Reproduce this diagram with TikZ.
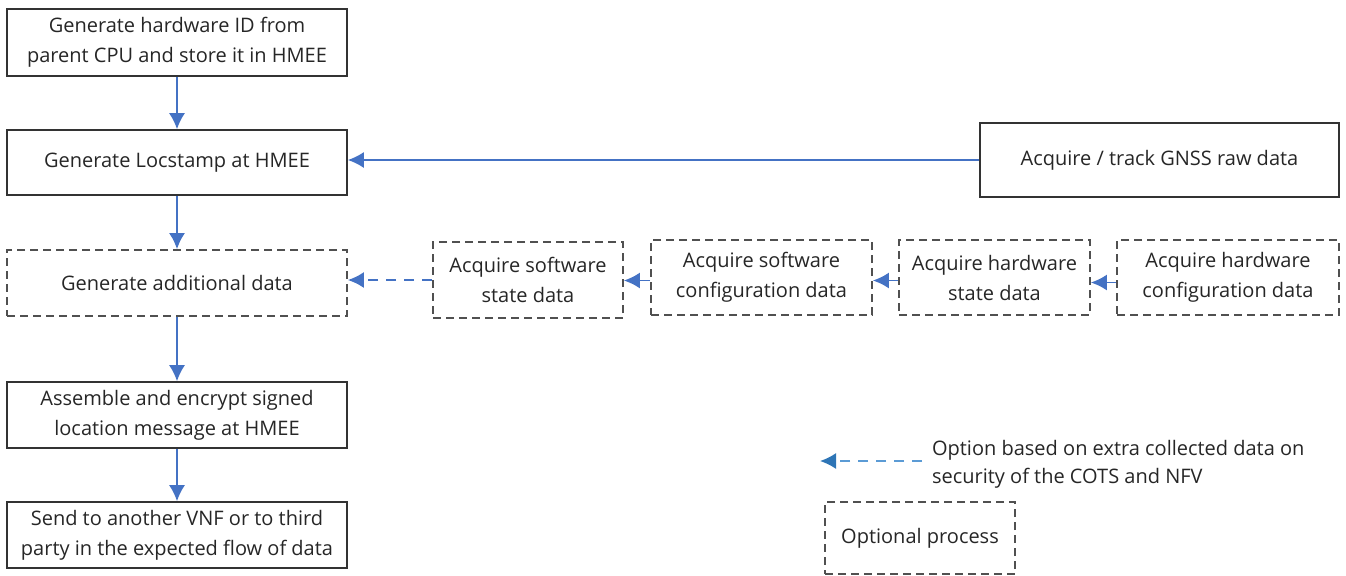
\documentclass[tikz,border=0pt]{standalone}
\usepackage{fontspec}
\setmainfont{Open Sans}
\usetikzlibrary{arrows.meta, positioning}
\definecolor{flowblue}{HTML}{4472C4}
\definecolor{legblue}{HTML}{5B9BD5}
\definecolor{legtip}{HTML}{2E75B6}
\definecolor{dashgray}{HTML}{505050}
\definecolor{textgray}{HTML}{262626}
\tikzstyle{process} = [rectangle, draw=black!80, line width=0.8pt, align=center, inner sep=0pt, text=textgray, font=\fontsize{10}{15}\selectfont]
\tikzstyle{optional} = [process, draw=dashgray, line width=0.9pt, dash pattern=on 4pt off 2.5pt]
\tikzstyle{arrow} = [flowblue, line width=0.9pt, -{Latex[length=8pt,width=8pt]}]
\tikzstyle{optarrow} = [arrow, dash pattern=on 5pt off 4pt]

\begin{document}
\begin{tikzpicture}[x=0.5pt, y=-0.5pt]
\useasboundingbox (0,0) rectangle (1346,575);
% main flow
\node (hwid) [process, minimum width=170pt, minimum height=33.5pt] at (177,42.5) {Generate hardware ID from\\parent CPU and store it in HMEE};
\node (locstamp) [process, minimum width=170pt, minimum height=32.5pt] at (177,162.5) {Generate Locstamp at HMEE};
\node (adddata) [optional, minimum width=170pt, minimum height=33pt] at (177,283) {Generate additional data};
\node (assemble) [process, minimum width=170pt, minimum height=33pt] at (177,415) {Assemble and encrypt signed\\location message at HMEE};
\node (send) [process, minimum width=170pt, minimum height=33pt] at (177,535) {Send to another VNF or to third\\party in the expected flow of data};
% inputs
\node (gnss) [process, minimum width=179.5pt, minimum height=37pt] at (1159.5,160) {Acquire / track GNSS raw data};
\node (swstate) [optional, minimum width=95pt, minimum height=38pt] at (528,280) {Acquire software\\state data};
\node (swconf) [optional, minimum width=110.5pt, minimum height=37.5pt] at (761.5,277.5) {Acquire software\\configuration data};
\node (hwstate) [optional, minimum width=95.5pt, minimum height=37.5pt] at (994.5,277.5) {Acquire hardware\\state data};
\node (hwconf) [optional, minimum width=111pt, minimum height=37.5pt] at (1228,277.5) {Acquire hardware\\configuration data};
% legend
\coordinate (legstart) at (922,461);
\coordinate (legend) at (820,461);
\node (legtext) [anchor=west, align=left, text=textgray, font=\fontsize{10}{14}\selectfont] at (925,464) {Option based on extra collected data on\\security of the COTS and NFV};
\node (optproc) [optional, minimum width=95pt, minimum height=36pt] at (920,538) {Optional process};

\draw [arrow] (hwid) -- (locstamp);
\draw [arrow] (locstamp) -- (adddata);
\draw [arrow] (adddata) -- (assemble);
\draw [arrow] (assemble) -- (send);
\draw [arrow] (gnss.west) -- (gnss.west -| locstamp.east);
\draw [arrow] ([yshift=-2.5pt]hwconf.west) -- ([yshift=-2.5pt]hwconf.west -| hwstate.east);
\draw [arrow] ([yshift=-1.5pt]hwstate.west) -- ([yshift=-1.5pt]hwstate.west -| swconf.east);
\draw [arrow] ([yshift=-1.5pt]swconf.west) -- ([yshift=-1.5pt]swconf.west -| swstate.east);
\draw [optarrow] (swstate.west) -- (swstate.west -| adddata.east);
\draw [optarrow, legblue, -{Latex[length=8pt,width=8pt,color=legtip]}] (legstart) -- (legend);
\end{tikzpicture}
\end{document}
